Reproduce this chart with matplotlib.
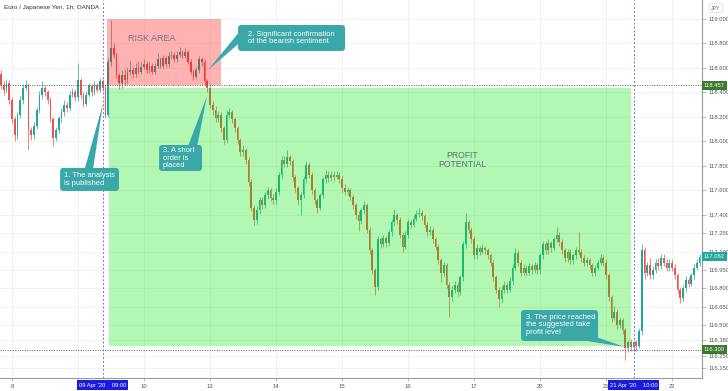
import numpy as np
import matplotlib.pyplot as plt
from matplotlib.patches import Rectangle, FancyBboxPatch, Polygon
from matplotlib.transforms import blended_transform_factory

plt.rcParams['font.family'] = ['Liberation Sans', 'DejaVu Sans']

# EUR/JPY hourly candles, 8 Apr 2020 20:00 -> 22 Apr 2020 10:00 (bar 0 = 8 Apr 00:00)
first_open = 118.55
closes = [
    118.46, 118.42, 118.48, 118.34,
    118.18, 118.05, 118.22, 118.34, 118.44, 118.46, 118.09, 118.05, 118.13, 118.26, 118.38, 118.44,
    118.40, 118.34, 118.18, 118.03, 118.09, 118.19, 118.24, 118.30, 118.27, 118.38, 118.40, 118.36,
    # 9 Apr
    118.50, 118.38, 118.31, 118.38, 118.45, 118.40, 118.46, 118.42, 118.49, 118.44, 118.22, 118.65,
    118.76, 118.71, 118.54, 118.48, 118.54, 118.50, 118.57, 118.58, 118.55, 118.60, 118.57, 118.61,
    # 10 Apr
    118.63, 118.58, 118.62, 118.57, 118.62, 118.67, 118.62, 118.68, 118.63, 118.70, 118.71, 118.67,
    118.71, 118.73, 118.70, 118.73, 118.65, 118.57, 118.53, 118.58, 118.67, 118.65, 118.49, 118.44,
    # 13 Apr
    118.30, 118.26, 118.19, 118.22, 118.11, 118.01, 118.22, 118.24, 118.18, 118.11, 118.01, 117.91,
    117.93, 117.85, 117.67, 117.46, 117.36, 117.44, 117.52, 117.48, 117.56, 117.60, 117.54, 117.52,
    # 14 Apr
    117.59, 117.73, 117.85, 117.82, 117.87, 117.84, 117.71, 117.62, 117.52, 117.56, 117.69, 117.81,
    117.73, 117.60, 117.52, 117.46, 117.56, 117.69, 117.73, 117.70, 117.73, 117.71, 117.73, 117.69,
    # 15 Apr
    117.62, 117.59, 117.60, 117.55, 117.48, 117.40, 117.35, 117.44, 117.48, 117.28, 117.11, 116.95,
    116.81, 117.20, 117.16, 117.21, 117.17, 117.26, 117.34, 117.40, 117.36, 117.24, 117.14, 117.24,
    # 16 Apr
    117.34, 117.32, 117.37, 117.41, 117.42, 117.39, 117.32, 117.26, 117.28, 117.20, 117.14, 117.03,
    116.93, 116.99, 116.83, 116.73, 116.79, 116.83, 116.77, 116.89, 117.16, 117.34, 117.28, 117.20,
    # 17 Apr
    117.07, 117.13, 117.10, 117.13, 117.11, 117.07, 117.01, 116.89, 116.79, 116.71, 116.79, 116.83,
    116.79, 116.86, 116.97, 117.09, 117.01, 116.93, 116.97, 116.93, 116.98, 116.95, 116.99, 116.95,
    # 20 Apr
    117.07, 117.16, 117.11, 117.17, 117.13, 117.20, 117.24, 117.18, 117.11, 117.05, 117.10, 117.03,
    117.07, 117.11, 117.10, 117.05, 117.01, 117.03, 116.99, 116.93, 116.97, 117.01, 117.05, 117.01,
    # 21 Apr
    116.91, 116.73, 116.56, 116.61, 116.50, 116.54, 116.46, 116.31, 116.36, 116.32, 116.36, 116.33,
    116.45, 117.11, 116.93, 116.99, 116.91, 116.95, 117.01, 116.98, 117.05, 117.01, 116.97, 117.01,
    # 22 Apr
    116.97, 116.91, 116.79, 116.72, 116.80, 116.87, 116.84, 116.91, 116.97, 117.01, 117.06,
]
highs = [
    118.58, 118.49, 118.51, 118.50,
    118.36, 118.21, 118.24, 118.37, 118.47, 118.50, 118.48, 118.12, 118.16, 118.28, 118.41, 118.49,
    118.46, 118.42, 118.36, 118.20, 118.12, 118.21, 118.27, 118.34, 118.32, 118.41, 118.44, 118.43,
    118.64, 118.52, 118.40, 118.41, 118.48, 118.47, 118.49, 118.48, 118.52, 118.51, 118.46, 118.68,
    118.99, 118.80, 118.73, 118.56, 118.58, 118.59, 118.61, 118.66, 118.61, 118.64, 118.66, 118.65,
    118.67, 118.66, 118.65, 118.64, 118.64, 118.72, 118.69, 118.71, 118.70, 118.73, 118.74, 118.73,
    118.74, 118.77, 118.75, 118.76, 118.75, 118.67, 118.59, 118.61, 118.70, 118.69, 118.67, 118.51,
    118.47, 118.33, 118.29, 118.25, 118.24, 118.13, 118.26, 118.27, 118.26, 118.20, 118.13, 118.03,
    117.97, 117.95, 117.87, 117.69, 117.48, 117.47, 117.55, 117.55, 117.59, 117.63, 117.62, 117.57,
    117.62, 117.75, 117.88, 117.88, 117.93, 117.89, 117.86, 117.73, 117.64, 117.59, 117.72, 117.84,
    117.83, 117.75, 117.62, 117.54, 117.58, 117.71, 117.77, 117.76, 117.76, 117.76, 117.76, 117.75,
    117.72, 117.65, 117.63, 117.62, 117.57, 117.50, 117.43, 117.46, 117.51, 117.50, 117.30, 117.13,
    116.97, 117.23, 117.22, 117.24, 117.23, 117.28, 117.37, 117.45, 117.42, 117.38, 117.26, 117.27,
    117.37, 117.36, 117.40, 117.44, 117.46, 117.44, 117.41, 117.34, 117.31, 117.30, 117.22, 117.16,
    117.05, 117.02, 117.01, 116.85, 116.82, 116.86, 116.85, 116.91, 117.19, 117.42, 117.36, 117.30,
    117.23, 117.16, 117.15, 117.16, 117.15, 117.13, 117.09, 117.03, 116.91, 116.81, 116.82, 116.86,
    116.85, 116.89, 117.00, 117.13, 117.11, 117.03, 117.00, 116.99, 117.01, 117.00, 117.02, 117.01,
    117.09, 117.19, 117.19, 117.20, 117.19, 117.22, 117.30, 117.26, 117.20, 117.13, 117.12, 117.12,
    117.09, 117.14, 117.26, 117.12, 117.07, 117.06, 117.05, 117.01, 116.99, 117.03, 117.08, 117.07,
    117.04, 116.93, 116.75, 116.66, 116.63, 116.57, 116.56, 116.48, 116.38, 116.39, 116.38, 116.38,
    116.48, 117.16, 117.14, 117.02, 117.05, 116.98, 117.04, 117.05, 117.08, 117.08, 117.04, 117.04,
    117.04, 117.00, 116.93, 116.81, 116.83, 116.90, 116.89, 116.93, 117.00, 117.04, 117.08,
]
lows = [
    118.43, 118.38, 118.40, 118.31,
    118.15, 118.00, 118.02, 118.19, 118.31, 118.42, 117.93, 118.01, 118.02, 118.10, 118.23, 118.35,
    118.37, 118.31, 118.16, 117.96, 118.00, 118.07, 118.16, 118.21, 118.24, 118.25, 118.36, 118.33,
    118.33, 118.35, 118.28, 118.29, 118.36, 118.37, 118.38, 118.40, 118.40, 118.41, 118.19, 118.20,
    118.62, 118.68, 118.52, 118.43, 118.44, 118.46, 118.48, 118.54, 118.52, 118.53, 118.55, 118.55,
    118.59, 118.56, 118.56, 118.55, 118.55, 118.60, 118.60, 118.60, 118.61, 118.61, 118.67, 118.65,
    118.65, 118.69, 118.68, 118.68, 118.63, 118.55, 118.50, 118.51, 118.56, 118.62, 118.46, 118.40,
    118.27, 118.22, 118.16, 118.16, 118.08, 117.98, 117.99, 118.19, 118.15, 118.08, 117.98, 117.88,
    117.88, 117.82, 117.64, 117.43, 117.32, 117.33, 117.41, 117.45, 117.46, 117.53, 117.51, 117.49,
    117.49, 117.56, 117.70, 117.79, 117.79, 117.81, 117.68, 117.59, 117.48, 117.40, 117.54, 117.66,
    117.70, 117.57, 117.49, 117.42, 117.44, 117.54, 117.66, 117.67, 117.68, 117.68, 117.69, 117.66,
    117.59, 117.56, 117.56, 117.52, 117.45, 117.37, 117.27, 117.33, 117.41, 117.25, 117.08, 116.92,
    116.75, 116.79, 117.13, 117.14, 117.14, 117.15, 117.23, 117.31, 117.33, 117.21, 117.10, 117.12,
    117.21, 117.29, 117.30, 117.35, 117.38, 117.36, 117.30, 117.23, 117.24, 117.17, 117.11, 117.00,
    116.85, 116.90, 116.80, 116.57, 116.70, 116.76, 116.74, 116.75, 116.86, 117.13, 117.25, 117.17,
    117.04, 117.04, 117.07, 117.08, 117.08, 117.04, 116.98, 116.86, 116.76, 116.65, 116.68, 116.76,
    116.76, 116.77, 116.83, 116.95, 116.98, 116.90, 116.91, 116.90, 116.91, 116.92, 116.93, 116.92,
    116.92, 117.04, 117.08, 117.08, 117.10, 117.11, 117.18, 117.15, 117.08, 117.02, 117.02, 117.00,
    117.00, 117.04, 117.07, 117.02, 116.98, 116.98, 116.96, 116.90, 116.90, 116.95, 116.99, 116.98,
    116.88, 116.70, 116.53, 116.54, 116.47, 116.48, 116.43, 116.22, 116.28, 116.29, 116.29, 116.29,
    116.31, 116.42, 116.88, 116.90, 116.88, 116.88, 116.93, 116.95, 116.96, 116.98, 116.94, 116.94,
    116.94, 116.88, 116.76, 116.68, 116.70, 116.77, 116.81, 116.82, 116.88, 116.95, 116.98,
]

day_index = [0, 24, 48, 72, 96, 120, 144, 168, 192, 216, 240]
day_labels = ['8', '9', '10', '13', '14', '15', '16', '17', '20', '21', '22']

price_ticks = [119.0, 118.8, 118.6, 118.4, 118.2, 118.0, 117.8, 117.6, 117.4, 117.25,
               117.1, 116.95, 116.8, 116.65, 116.5, 116.38, 116.25, 116.15]
price_labels = ['119.000', '118.800', '118.600', '118.400', '118.200', '118.000', '117.800',
                '117.600', '117.400', '117.250', '117.100', '116.950', '116.800', '116.650',
                '116.500', '116.380', '116.250', '116.150']

entry_level = 118.457
target_level = 116.300
last_price = 117.062
analysis_bar = 33     # 09 Apr '20 09:00
target_bar = 226      # 21 Apr '20 10:00

UP = '#26a69a'
DOWN = '#ef5350'
TEAL = '#3aa7a8'

c = np.array(closes)
o = np.r_[first_open, c[:-1]]
h = np.array(highs)
l = np.array(lows)
bar_index = np.arange(len(c)) - 4

fig = plt.figure(figsize=(7.28, 3.91), dpi=100)
ax = fig.add_axes([0, 13 / 391, 702 / 728, 378 / 391])
ax.set_xlim(-4.36, 250.9)
ax.set_ylim(116.069, 119.155)

# candles
col = np.where(c >= o, UP, DOWN)
ax.vlines(bar_index, l, h, colors=col, lw=0.5, zorder=2)
ax.bar(bar_index, np.maximum(np.abs(c - o), 0.004), bottom=np.minimum(o, c),
       width=0.68, color=col, lw=0, zorder=3)

# axes styling
ax.yaxis.tick_right()
ax.set_yticks(price_ticks, price_labels)
ax.set_xticks(day_index, day_labels)
ax.tick_params(axis='y', length=3, width=0.5, color='#a0a0a0', labelsize=4.2,
               labelcolor='#555555', pad=1.5)
ax.tick_params(axis='x', length=2, width=0.5, color='#a0a0a0', labelsize=4.2,
               labelcolor='#555555', pad=2)
ax.grid(color='#f0f0f0', lw=0.6)
ax.set_axisbelow(True)
for s in ['top', 'left']:
    ax.spines[s].set_visible(False)
for s in ['right', 'bottom']:
    ax.spines[s].set_color('#9a9a9a')
    ax.spines[s].set_linewidth(0.8)

# levels and markers
ax.axhline(entry_level, color='#4d6b45', ls=(0, (1, 1.5)), lw=0.7, zorder=4)
ax.axhline(target_level, color='#4d6b45', ls=(0, (1, 1.5)), lw=0.7, zorder=4)
ax.axvline(analysis_bar, color='#7b6fd6', ls=(0, (2, 2)), lw=0.7, zorder=4)
ax.axvline(target_bar, color='#7b6fd6', ls=(0, (2, 2)), lw=0.7, zorder=4)

# shaded zones
ax.add_patch(Rectangle((34.5, entry_level), 76 - 34.5, 119.0 - entry_level,
                       fc=(1, 0, 0), alpha=0.3, ec='none', zorder=5))
ax.add_patch(Rectangle((35.3, 116.333), 225.1 - 35.3, 118.44 - 116.333,
                       fc=(0, 0.9, 0), alpha=0.3, ec='none', zorder=5))
ax.text(50.9, 118.837, 'RISK AREA', fontsize=6.5, color='#78708f', ha='center',
        va='center', zorder=6)
ax.text(163.6, 117.85, 'PROFIT\nPOTENTIAL', fontsize=6.2, color='#5b7172', ha='center',
        va='center', linespacing=1.0, zorder=6)

ASPECT = 2.75 / 122.5


def callout(box, tail, text, tx, ty):
    x0, x1, y0, y1 = box
    ax.add_patch(FancyBboxPatch((x0, y0), x1 - x0, y1 - y0,
                                boxstyle='round,pad=0,rounding_size=1.1',
                                mutation_aspect=ASPECT, fc=TEAL, ec='none', zorder=7))
    ax.add_patch(Polygon(tail, closed=True, fc=TEAL, ec='none', zorder=7))
    ax.text(tx, ty, text, color='white', fontsize=5.4, ha='left', va='center',
            linespacing=1.05, zorder=8)


callout((17.5, 38.9, 117.596, 117.784),
        [(26.5, 117.78), (29.5, 117.78), (33.1, 118.31)],
        '1. The analysis\nis published', 18.9, 117.69)
callout((82.2, 121.1, 118.739, 118.951),
        [(82.5, 118.89), (82.5, 118.80), (71.3, 118.584)],
        '2. Significant confirmation\nof the bearish sentiment', 85.8, 118.845)
callout((53.5, 69.1, 117.759, 117.971),
        [(64.0, 117.96), (67.3, 117.96), (70.9, 118.37)],
        '3. A short\norder is\nplaced', 54.9, 117.865)
callout((185.1, 213.1, 116.371, 116.624),
        [(208.0, 116.375), (212.8, 116.40), (222.9, 116.322)],
        '3. The price reached\nthe suggested take\nprofit level', 186.9, 116.502)

# title
fig.text(4 / 728, 1 - 8 / 391, 'Euro / Japanese Yen, 1h, OANDA', fontsize=4.6,
         color='#333333', ha='left', va='center')

# right-hand price badges
yb = blended_transform_factory(ax.transAxes, ax.transData)
for level, fc in [(entry_level, '#3c7a2e'), (last_price, UP), (target_level, '#3c7a2e')]:
    ax.text(1.0 + 2 / 702, level, f'{level:.3f}', transform=yb, fontsize=4.2,
            color='white', ha='left', va='center', zorder=9,
            bbox=dict(boxstyle='square,pad=0.3', fc=fc, ec='none'))
fig.text(716 / 728, 1 - 8 / 391, 'JPY', fontsize=3.8, color='#666666', ha='center',
         va='center', bbox=dict(boxstyle='round,pad=0.4', fc='white', ec='#d8d8d8', lw=0.5))

# bottom time badges
xb = blended_transform_factory(ax.transData, ax.transAxes)
for bar, label in [(analysis_bar, "09 Apr '20    09:00"), (target_bar, "21 Apr '20    10:00")]:
    ax.text(bar, -0.012, label, transform=xb, fontsize=4.2, color='white', ha='center',
            va='top', zorder=9, bbox=dict(boxstyle='square,pad=0.35', fc='#1a1ae0', ec='none'))

fig.savefig('out.png', dpi=100)
